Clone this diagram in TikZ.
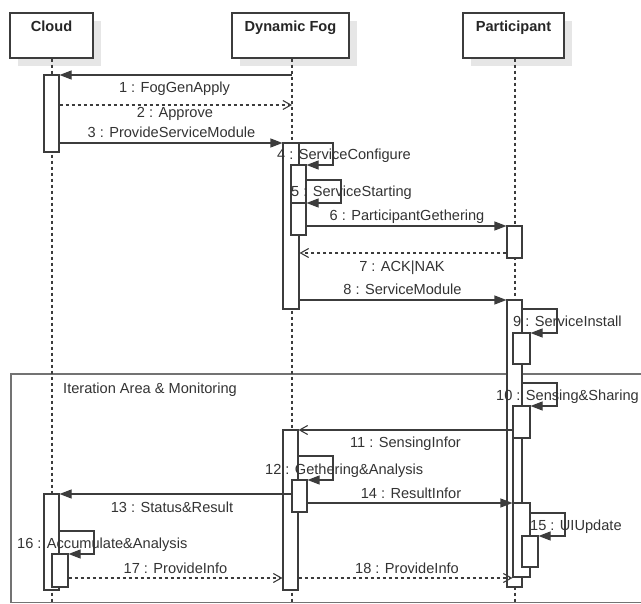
\documentclass[tikz,border=0pt]{standalone}
\usepackage{fontspec}
\setmainfont{Liberation Sans}
\usetikzlibrary{arrows.meta,fit}
\definecolor{inkline}{HTML}{3C3C3C}
\definecolor{inktext}{HTML}{333333}
\definecolor{shade}{HTML}{E6E6E6}
\begin{document}
\begin{tikzpicture}[x=1pt,y=-1pt,
  every node/.style={font=\fontsize{14.6}{17}\selectfont, text=inktext, inner sep=0pt},
  hdrbox/.style={draw=inkline, line width=1.2pt, fill=white, inner sep=0pt},
  hdrshade/.style={fill=shade, draw=none, inner sep=0pt},
  hdrtext/.style={font=\fontsize{14.6}{17}\selectfont\bfseries, text=black!85, anchor=base},
  lifeline/.style={draw=inkline, line width=1.1pt, dash pattern=on 3pt off 3pt},
  actbox/.style={draw=inkline, line width=1.1pt, fill=white, inner sep=0pt},
  actedge/.style={draw=inkline, line width=1.1pt, inner sep=0pt},
  callmsg/.style={draw=inkline, line width=1.1pt, -{Triangle[length=12pt,width=9pt]}},
  asyncmsg/.style={draw=inkline, line width=1.1pt, -{Straight Barb[length=8pt,width=9pt]}},
  replymsg/.style={draw=inkline, line width=1.1pt, dash pattern=on 3pt off 3pt, -{Straight Barb[length=8pt,width=9pt]}},
  msglabel/.style={anchor=base},
  msglabelL/.style={anchor=base west},
  framebox/.style={draw=black!55, line width=1.3pt}
]
\useasboundingbox (0,0) rectangle (641,604);

% combined fragment frame
\draw[framebox] (11,374) rectangle (660,602.5);
\node[msglabelL] (frameT) at (63,394) {Iteration Area \& Monitoring};

% lifeline headers with drop shadows
\node[hdrshade, fit={(18,21) (101,66)}] (cloudS) {};
\node[hdrshade, fit={(240,21) (357,66)}] (fogS) {};
\node[hdrshade, fit={(471,21) (572,66)}] (partS) {};
\node[hdrbox, fit={(10,13) (93,58)}] (cloud) {};
\node[hdrbox, fit={(232,13) (349,58)}] (fog) {};
\node[hdrbox, fit={(463,13) (564,58)}] (part) {};
\node[hdrtext] (cloudT) at (51.5,32) {Cloud};
\node[hdrtext] (fogT) at (290.5,32) {Dynamic Fog};
\node[hdrtext] (partT) at (513.5,32) {Participant};

% lifelines
\coordinate (cloudEnd) at (52,604);
\coordinate (fogEnd) at (292,604);
\coordinate (partEnd) at (515,604);
\draw[lifeline] (cloud.south -| cloudEnd) -- (cloudEnd);
\draw[lifeline] (fog.south -| fogEnd) -- (fogEnd);
\draw[lifeline] (part.south -| partEnd) -- (partEnd);

% activation bars
\node[actbox, fit={(44,75) (59,152)}] (cA) {};
\node[actbox, fit={(283,143) (299,309)}] (fA) {};
\node[actbox, fit={(291,165) (306,235)}] (fB) {};
\node[actbox, fit={(291,203) (306,235)}] (fC) {};
\node[actbox, fit={(507,226) (522,258)}] (pA) {};
\node[actbox, fit={(507,300) (522,587)}] (pB) {};
\node[actbox, fit={(513,333) (530,364)}] (pC) {};
\node[actbox, fit={(513,406) (530,438)}] (pD) {};
\node[actedge, fit={(513,438) (522,577)}] (pE) {};
\node[actbox, fit={(513,503) (530,577)}] (pF) {};
\node[actbox, fit={(522,536) (538,567)}] (pG) {};
\node[actbox, fit={(283,430) (298,590)}] (fD) {};
\node[actbox, fit={(292,480) (307,512)}] (fE) {};
\node[actbox, fit={(44,494) (59,590)}] (cB) {};
\node[actbox, fit={(52,554) (68,587)}] (cC) {};

% messages
\draw[callmsg] (fogEnd |- 0,75) -- (cA.east |- 0,75);
\node[msglabel] (m1) at (174.5,93) {1 : FogGenApply};

\draw[replymsg] (cA.east |- 0,105) -- (fogEnd |- 0,105);
\node[msglabel] (m2) at (175,118) {2 : Approve};

\draw[callmsg] (cA.east |- 0,143) -- (fA.west |- 0,143);
\node[msglabel] (m3) at (171.5,138) {3 : ProvideServiceModule};

\draw[callmsg] (fA.east |- 0,143) -- (333,143) -- (333,165) -- (fB.east |- 0,165);
\node[msglabelL] (m4) at (277,160) {4 : ServiceConfigure};

\draw[callmsg] (fB.east |- 0,180) -- (341,180) -- (341,203) -- (fC.east |- 0,203);
\node[msglabelL] (m5) at (291,197) {5 : ServiceStarting};

\draw[callmsg] (fC.east |- 0,226) -- (pA.west |- 0,226);
\node[msglabel] (m6) at (407,221) {6 : ParticipantGethering};

\draw[replymsg] (pA.west |- 0,253) -- (fA.east |- 0,253);
\node[msglabel] (m7) at (402,272) {7 : ACK|NAK};

\draw[callmsg] (fA.east |- 0,300) -- (pB.west |- 0,300);
\node[msglabel] (m8) at (402.5,295) {8 : ServiceModule};

\draw[callmsg] (pB.east |- 0,309) -- (557,309) -- (557,333) -- (pC.east |- 0,333);
\node[msglabelL] (m9) at (513,327) {9 : ServiceInstall};

\draw[callmsg] (pB.east |- 0,383) -- (557,383) -- (557,406) -- (pD.east |- 0,406);
\node[msglabelL] (m10) at (496,401) {10 : Sensing\&Sharing};

\draw[asyncmsg] (pD.west |- 0,430) -- (fD.east |- 0,430);
\node[msglabel] (m11) at (405.5,448) {11 : SensingInfor};

\draw[callmsg] (fD.east |- 0,456) -- (333,456) -- (333,480) -- (fE.east |- 0,480);
\node[msglabelL] (m12) at (265,475) {12 : Gethering\&Analysis};

\draw[callmsg] (fE.west |- 0,494) -- (cB.east |- 0,494);
\node[msglabel] (m13) at (172,513) {13 : Status\&Result};

\draw[callmsg] (fE.east |- 0,503) -- (pF.west |- 0,503);
\node[msglabel] (m14) at (411,499) {14 : ResultInfor};

\draw[callmsg] (pF.east |- 0,513) -- (565,513) -- (565,536) -- (pG.east |- 0,536);
\node[msglabelL] (m15) at (530,531) {15 : UIUpdate};

\draw[callmsg] (cB.east |- 0,531) -- (94,531) -- (94,554) -- (cC.east |- 0,554);
\node[msglabelL] (m16) at (17,549) {16 : Accumulate\&Analysis};

\draw[replymsg] (cC.east |- 0,578) -- (fD.west |- 0,578);
\node[msglabel] (m17) at (175.5,573) {17 : ProvideInfo};

\draw[replymsg] (fD.east |- 0,578) -- (pF.west |- 0,578);
\node[msglabel] (m18) at (407,573) {18 : ProvideInfo};
\end{tikzpicture}
\end{document}
